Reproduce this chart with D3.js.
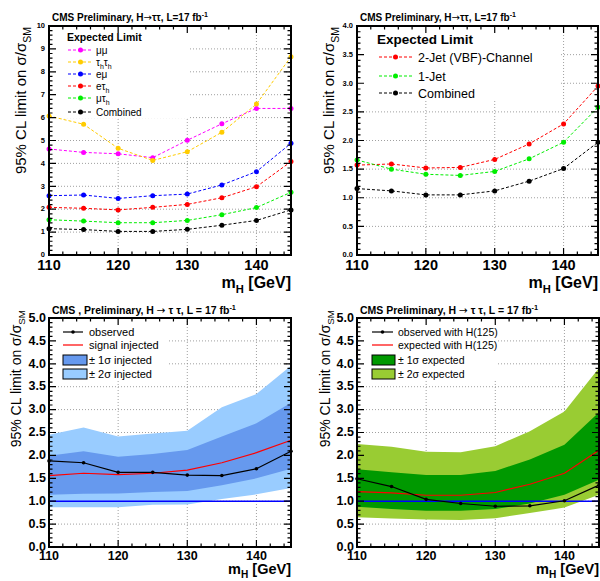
<!DOCTYPE html>
<html>
<head>
<meta charset="utf-8">
<script src="https://cdn.jsdelivr.net/npm/d3@7"></script>
<style>
  body { margin: 0; background: #fff; }
  svg { display: block; font-family: "Liberation Sans", Arial, sans-serif; }
</style>
</head>
<body>
<script>
const width = 600, height = 581;

// Higgs mass points (GeV)
const masses = [110, 115, 120, 125, 130, 135, 140, 145];

// top-left: expected limit per decay channel
const mumu     = [4.63, 4.48, 4.42, 4.25, 5.01, 5.73, 6.40, 6.40];
const tauhtauh = [6.07, 5.71, 4.66, 4.13, 4.51, 5.36, 6.59, 8.66];
const emu      = [2.59, 2.62, 2.47, 2.59, 2.66, 3.06, 3.64, 4.88];
const etauh    = [2.08, 2.04, 1.97, 2.08, 2.21, 2.50, 2.98, 4.08];
const mutauh   = [1.54, 1.48, 1.41, 1.41, 1.51, 1.76, 2.07, 2.74];
const combined = [1.15, 1.11, 1.03, 1.03, 1.12, 1.30, 1.51, 1.97];

// top-right: expected limit per jet category
const vbf2jet   = [1.57, 1.59, 1.52, 1.53, 1.67, 1.94, 2.29, 2.95];
const oneJet    = [1.66, 1.50, 1.41, 1.39, 1.46, 1.68, 1.97, 2.58];
const combJet   = [1.16, 1.12, 1.05, 1.05, 1.12, 1.29, 1.51, 1.97];

// bottom-left: signal injected
const inj2Up = [2.45, 2.61, 2.41, 2.48, 2.54, 3.05, 3.34, 3.96];
const inj1Up = [1.99, 2.09, 1.97, 2.03, 2.12, 2.41, 2.70, 3.15];
const injExp = [1.56, 1.61, 1.58, 1.61, 1.68, 1.84, 2.06, 2.33];
const inj1Dn = [1.14, 1.16, 1.17, 1.20, 1.22, 1.35, 1.50, 1.71];
const inj2Dn = [0.87, 0.87, 0.87, 0.92, 0.93, 1.05, 1.15, 1.29];
const injObs = [1.88, 1.84, 1.63, 1.63, 1.57, 1.56, 1.71, 2.09];

// bottom-right: with H(125)
const h2Up  = [2.25, 2.19, 2.08, 2.07, 2.20, 2.53, 2.96, 3.91];
const h1Up  = [1.70, 1.63, 1.57, 1.57, 1.66, 1.91, 2.23, 2.94];
const hExp  = [1.21, 1.18, 1.13, 1.13, 1.19, 1.37, 1.61, 2.11];
const h1Dn  = [0.88, 0.83, 0.79, 0.79, 0.83, 0.95, 1.14, 1.47];
const h2Dn  = [0.65, 0.62, 0.60, 0.59, 0.63, 0.74, 0.86, 1.14];
const hObs  = [1.49, 1.32, 1.04, 0.95, 0.89, 0.90, 1.01, 1.35];

const xMajor = [110, 120, 130, 140];

const svg = d3.select("body").append("svg")
    .attr("width", width)
    .attr("height", height);

// text with sub/superscript pieces: [text, "sub"|"sup"|"sym"|undefined]
function rich(text, segs, size) {
  let shift = 0;
  segs.forEach(([t, kind]) => {
    const target = kind === "sub" ? size * 0.3 : kind === "sup" ? -size * 0.4 : 0;
    const ts = text.append("tspan").text(t);
    if (target !== shift) ts.attr("dy", target - shift);
    if (kind === "sub" || kind === "sup") ts.attr("font-size", size * 0.7);
    if (kind === "sym") ts.attr("font-family", "DejaVu Sans").attr("font-weight", "normal");
    shift = target;
  });
  return text;
}

function panel(cfg) {
  const x = d3.scaleLinear().domain([110, 145]).range([cfg.left, cfg.right]);
  const y = d3.scaleLinear().domain([0, cfg.yMax]).range([cfg.bottom, cfg.top]);
  const yMajor = d3.range(0, cfg.yMax + 1e-9, cfg.yStep);
  const yMinor = d3.range(0, cfg.yMax + 1e-9, cfg.yStep / 5);
  const xMinor = d3.range(110, 145.01, 2);
  const g = svg.append("g");

  // dotted grid
  g.append("g").selectAll("line").data(yMajor.slice(1, -1)).join("line")
      .attr("x1", cfg.left).attr("x2", cfg.right)
      .attr("y1", d => y(d)).attr("y2", d => y(d));
  g.append("g").selectAll("line").data(xMajor.slice(1)).join("line")
      .attr("x1", d => x(d)).attr("x2", d => x(d))
      .attr("y1", cfg.top).attr("y2", cfg.bottom);
  g.selectAll("line")
      .attr("stroke", "#888").attr("stroke-width", 0.8).attr("stroke-dasharray", "1,2");

  // legend background hides the grid
  g.append("rect")
      .attr("x", cfg.legend.box[0]).attr("y", cfg.legend.box[1])
      .attr("width", cfg.legend.box[2] - cfg.legend.box[0])
      .attr("height", cfg.legend.box[3] - cfg.legend.box[1])
      .attr("fill", "#fff");

  cfg.draw(g, x, y);

  // frame
  g.append("rect")
      .attr("x", cfg.left).attr("y", cfg.top)
      .attr("width", cfg.right - cfg.left).attr("height", cfg.bottom - cfg.top)
      .attr("fill", "none").attr("stroke", "#000").attr("stroke-width", 2);

  // inward ticks on all four sides
  const tickPath = (vals, len, side) => vals.map(v => {
    if (side === "b") return `M${x(v)},${cfg.bottom}v${-len}`;
    if (side === "t") return `M${x(v)},${cfg.top}v${len}`;
    if (side === "l") return `M${cfg.left},${y(v)}h${len}`;
    return `M${cfg.right},${y(v)}h${-len}`;
  }).join("");
  const ticks = tickPath(xMajor, 7, "b") + tickPath(xMinor, 3.5, "b") +
      tickPath(xMajor, 7, "t") + tickPath(xMinor, 3.5, "t") +
      tickPath(yMajor, 7, "l") + tickPath(yMinor, 3.5, "l") +
      tickPath(yMajor, 7, "r") + tickPath(yMinor, 3.5, "r");
  g.append("path").attr("d", ticks).attr("stroke", "#000").attr("stroke-width", 1.2).attr("fill", "none");

  // tick labels
  g.append("g").selectAll("text").data(xMajor).join("text")
      .attr("x", d => x(d)).attr("y", cfg.xLabelY)
      .attr("text-anchor", "middle").attr("font-weight", "bold")
      .attr("font-size", cfg.xLabelSize)
      .text(d => d);
  g.append("g").selectAll("text").data(yMajor).join("text")
      .attr("x", cfg.left - cfg.yLabelGap).attr("y", d => y(d))
      .attr("dy", "0.3em")
      .attr("text-anchor", "end").attr("font-weight", "bold")
      .attr("font-size", cfg.yLabelSize)
      .text(d => d3.format(cfg.yFmt)(d));

  // axis titles
  rich(g.append("text")
      .attr("transform", `translate(${cfg.yTitle[0]},${cfg.yTitle[1]}) rotate(-90)`)
      .attr("text-anchor", "end").attr("font-size", cfg.yTitleSize),
    [["95% CL limit on σ/σ"], ["SM", "sub"]], cfg.yTitleSize);
  rich(g.append("text")
      .attr("x", cfg.right).attr("y", cfg.xTitleY)
      .attr("text-anchor", "end").attr("font-size", cfg.xTitleSize).attr("font-weight", "bold"),
    [["m"], ["H", "sub"], [" [GeV]"]], cfg.xTitleSize);

  // header
  rich(g.append("text")
      .attr("x", cfg.title.x).attr("y", cfg.title.y)
      .attr("font-size", cfg.title.size).attr("font-weight", "bold"),
    cfg.title.segs, cfg.title.size);

  cfg.legend.draw(g);
}

// dashed lines with markers (top panels)
function dashedSeries(g, x, y, series, r) {
  const line = d3.line().x((d, i) => x(masses[i])).y(d => y(d));
  series.forEach(s => {
    g.append("path").attr("d", line(s.values))
        .attr("fill", "none").attr("stroke", s.color)
        .attr("stroke-width", 1).attr("stroke-dasharray", "3,2");
    g.append("g").selectAll("circle").data(s.values).join("circle")
        .attr("cx", (d, i) => x(masses[i])).attr("cy", d => y(d))
        .attr("r", r).attr("fill", s.color);
  });
}

function dashedLegend(g, series, o) {
  g.append("text").attr("x", o.headX).attr("y", o.headY)
      .attr("font-size", o.headSize).attr("font-weight", "bold")
      .text("Expected Limit");
  series.forEach((s, i) => {
    const yy = o.rows[i];
    g.append("line").attr("x1", o.x1).attr("x2", o.x2).attr("y1", yy).attr("y2", yy)
        .attr("stroke", s.color).attr("stroke-dasharray", "3,2");
    g.append("circle").attr("cx", (o.x1 + o.x2) / 2).attr("cy", yy).attr("r", o.r).attr("fill", s.color);
    rich(g.append("text").attr("x", o.textX).attr("y", yy + o.textDy)
        .attr("font-size", o.textSize), s.name, o.textSize);
  });
}

// bands + lines (bottom panels)
function bandSeries(g, x, y, b) {
  const area = d3.area().x((d, i) => x(masses[i])).y0(d => y(d[0])).y1(d => y(d[1]));
  const line = d3.line().x((d, i) => x(masses[i])).y(d => y(d));
  g.append("path").attr("d", area(d3.zip(b.dn2, b.up2))).attr("fill", b.c2);
  g.append("path").attr("d", area(d3.zip(b.dn1, b.up1))).attr("fill", b.c1);
  g.append("line").attr("x1", x(110)).attr("x2", x(145)).attr("y1", y(1)).attr("y2", y(1))
      .attr("stroke", "#0000ff").attr("stroke-width", 1.5);
  g.append("path").attr("d", line(b.exp)).attr("fill", "none").attr("stroke", "#ff0000").attr("stroke-width", 1.2);
  g.append("path").attr("d", line(b.obs)).attr("fill", "none").attr("stroke", "#000").attr("stroke-width", 1.2);
  g.append("g").selectAll("circle").data(b.obs).join("circle")
      .attr("cx", (d, i) => x(masses[i])).attr("cy", d => y(d)).attr("r", 1.8).attr("fill", "#000");
}

function bandLegend(g, b, o) {
  const rows = o.rows;
  g.append("line").attr("x1", o.x1).attr("x2", o.x2).attr("y1", rows[0]).attr("y2", rows[0])
      .attr("stroke", "#000").attr("stroke-width", 1.2);
  g.append("circle").attr("cx", (o.x1 + o.x2) / 2).attr("cy", rows[0]).attr("r", 1.8);
  g.append("line").attr("x1", o.x1).attr("x2", o.x2).attr("y1", rows[1]).attr("y2", rows[1])
      .attr("stroke", "#ff0000").attr("stroke-width", 1.2);
  [b.c1, b.c2].forEach((c, i) => {
    g.append("rect").attr("x", o.x1).attr("y", rows[2 + i] - 5).attr("width", o.boxW).attr("height", 10)
        .attr("fill", c).attr("stroke", "#000").attr("stroke-width", 1);
  });
  b.labels.forEach((t, i) => {
    g.append("text").attr("x", o.textX).attr("y", rows[i] + 4)
        .attr("font-size", o.textSize).text(t);
  });
}

// ---- panel 1: channels
const chanSeries = [
  {name: [["μμ"]], color: "#ff00ff", values: mumu},
  {name: [["τ"], ["h", "sub"], ["τ"], ["h", "sub"]], color: "#ffcc00", values: tauhtauh},
  {name: [["eμ"]], color: "#0000ff", values: emu},
  {name: [["eτ"], ["h", "sub"]], color: "#ff0000", values: etauh},
  {name: [["μτ"], ["h", "sub"]], color: "#00ee00", values: mutauh},
  {name: [["Combined"]], color: "#000000", values: combined}
];
const topTitle = [["CMS  Preliminary, H"], ["→", "sym"], ["ττ, L=17 fb"], ["-1", "sup"]];
panel({
  left: 49, right: 291, top: 26, bottom: 255, yMax: 10, yStep: 1, yFmt: "d",
  xLabelY: 270, xLabelSize: 14.5, yLabelSize: 7.5, yLabelGap: 4,
  yTitle: [26, 27], yTitleSize: 15, xTitleY: 288, xTitleSize: 16,
  title: {x: 52, y: 21, size: 10, segs: topTitle},
  draw: (g, x, y) => dashedSeries(g, x, y, chanSeries, 2.5),
  legend: {
    box: [50, 27, 190, 118],
    draw: g => dashedLegend(g, chanSeries, {
      headX: 67, headY: 41, headSize: 10.5,
      rows: [50, 62, 74, 86, 98, 112], x1: 68, x2: 93, r: 2.5,
      textX: 96, textDy: 3.5, textSize: 10
    })
  }
});

// ---- panel 2: jet categories
const jetSeries = [
  {name: [["2-Jet (VBF)-Channel"]], color: "#ff0000", values: vbf2jet},
  {name: [["1-Jet"]], color: "#00ee00", values: oneJet},
  {name: [["Combined"]], color: "#000000", values: combJet}
];
panel({
  left: 357, right: 598, top: 26, bottom: 255, yMax: 4, yStep: 0.5, yFmt: ".1f",
  xLabelY: 270, xLabelSize: 14.5, yLabelSize: 7.5, yLabelGap: 4,
  yTitle: [334, 27], yTitleSize: 15, xTitleY: 288, xTitleSize: 16,
  title: {x: 360, y: 21, size: 10, segs: topTitle},
  draw: (g, x, y) => dashedSeries(g, x, y, jetSeries, 2.5),
  legend: {
    box: [358, 27, 561, 100],
    draw: g => dashedLegend(g, jetSeries, {
      headX: 377, headY: 44, headSize: 13.5,
      rows: [57, 76, 93], x1: 379, x2: 412, r: 2.5,
      textX: 418, textDy: 4.5, textSize: 12.5
    })
  }
});

// ---- panel 3: signal injected
const injBands = {
  up2: inj2Up, up1: inj1Up, exp: injExp, dn1: inj1Dn, dn2: inj2Dn, obs: injObs,
  c1: "#6699ee", c2: "#99ccff",
  labels: ["observed", "signal injected", "± 1σ injected", "± 2σ injected"]
};
panel({
  left: 49, right: 291, top: 318, bottom: 547, yMax: 5, yStep: 0.5, yFmt: ".1f",
  xLabelY: 560, xLabelSize: 12.5, yLabelSize: 12.5, yLabelGap: 3,
  yTitle: [21, 310], yTitleSize: 14, xTitleY: 574, xTitleSize: 14.5,
  title: {x: 52, y: 314, size: 10.5,
    segs: [["CMS , Preliminary, H "], ["→", "sym"], [" τ τ, L = 17 fb"], ["-1", "sup"]]},
  draw: (g, x, y) => bandSeries(g, x, y, injBands),
  legend: {
    box: [50, 319, 168, 381],
    draw: g => bandLegend(g, injBands, {rows: [332, 345, 360, 374], x1: 63, x2: 83, boxW: 24, textX: 89, textSize: 11})
  }
});

// ---- panel 4: with H(125)
const hBands = {
  up2: h2Up, up1: h1Up, exp: hExp, dn1: h1Dn, dn2: h2Dn, obs: hObs,
  c1: "#009900", c2: "#99cc33",
  labels: ["observed with H(125)", "expected with H(125)", "± 1σ expected", "± 2σ expected"]
};
panel({
  left: 357, right: 599, top: 318, bottom: 547, yMax: 5, yStep: 0.5, yFmt: ".1f",
  xLabelY: 560, xLabelSize: 12.5, yLabelSize: 12.5, yLabelGap: 3,
  yTitle: [330, 310], yTitleSize: 14, xTitleY: 574, xTitleSize: 14.5,
  title: {x: 360, y: 314, size: 10.5,
    segs: [["CMS  Preliminary, H "], ["→", "sym"], [" τ τ, L = 17 fb"], ["-1", "sup"]]},
  draw: (g, x, y) => bandSeries(g, x, y, hBands),
  legend: {
    box: [358, 319, 497, 381],
    draw: g => bandLegend(g, hBands, {rows: [332, 345, 360, 374], x1: 372, x2: 393, boxW: 23, textX: 398, textSize: 10.5})
  }
});
</script>
</body>
</html>
